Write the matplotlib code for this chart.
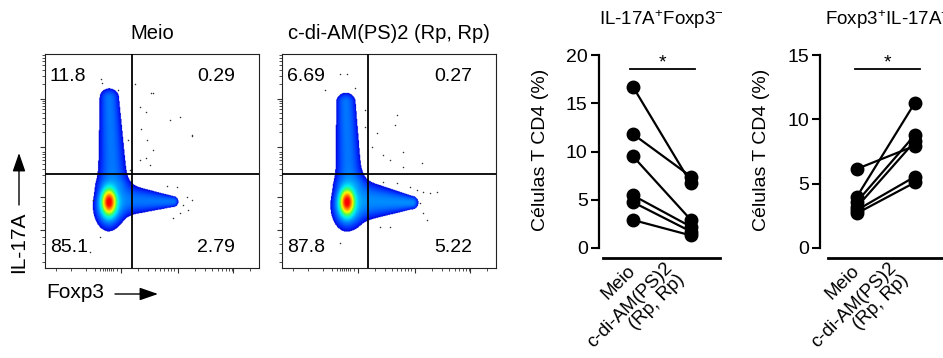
import numpy as np
import matplotlib
matplotlib.use('Agg')
import matplotlib.pyplot as plt
from matplotlib.colors import LinearSegmentedColormap
from matplotlib.patches import FancyArrowPatch
import matplotlib.transforms as mtransforms

plt.rcParams['font.family'] = ['Liberation Sans', 'DejaVu Sans']
plt.rcParams['mathtext.fontset'] = 'custom'
plt.rcParams['mathtext.rm'] = 'Liberation Sans'
plt.rcParams['mathtext.it'] = 'Liberation Sans:italic'
plt.rcParams['mathtext.bf'] = 'Liberation Sans:bold'

W, H, DPI = 943, 358, 100

# ------------------------------------------------------------------ data
flow_titles = ['Meio', 'c-di-AM(PS)2 (Rp, Rp)']
quad_meio = ['11.8', '0.29', '85.1', '2.79']   # UL, UR, LL, LR
quad_rp = ['6.69', '0.27', '87.8', '5.22']
gate_x = [0.407, 0.400]
gate_y = [0.439, 0.439]

# population density components (axes fraction):
# x0, y0, x1, y1, sx0, sy0, sx1, sy1, weight
comps_meio = [
    (0.299, 0.308, 0.299, 0.308, 0.018, 0.032, 0.018, 0.032, 1.00),
    (0.297, 0.292, 0.297, 0.292, 0.037, 0.060, 0.037, 0.060, 0.08),
    (0.316, 0.400, 0.300, 0.795, 0.042, 0.030, 0.028, 0.028, 0.04),
    (0.360, 0.318, 0.600, 0.310, 0.030, 0.048, 0.015, 0.016, 0.04),
]
comps_rp = [
    (0.304, 0.308, 0.304, 0.308, 0.018, 0.032, 0.018, 0.032, 1.00),
    (0.300, 0.292, 0.300, 0.292, 0.037, 0.060, 0.037, 0.060, 0.08),
    (0.312, 0.400, 0.298, 0.775, 0.038, 0.030, 0.028, 0.028, 0.04),
    (0.360, 0.315, 0.610, 0.305, 0.035, 0.058, 0.016, 0.018, 0.05),
]

dots_meio_x = [0.262, 0.268, 0.343, 0.421, 0.503, 0.444, 0.472, 0.584, 0.685, 0.447,
               0.475, 0.506, 0.472, 0.491, 0.389, 0.397, 0.569, 0.615, 0.662, 0.685,
               0.646, 0.631, 0.670, 0.600, 0.226, 0.257, 0.210, 0.444, 0.631, 0.685, 0.497]
dots_meio_y = [0.882, 0.866, 0.832, 0.860, 0.816, 0.754, 0.730, 0.692, 0.617, 0.648,
               0.598, 0.551, 0.513, 0.481, 0.598, 0.458, 0.383, 0.380, 0.333, 0.318,
               0.294, 0.256, 0.271, 0.232, 0.318, 0.146, 0.076, 0.505, 0.706, 0.621, 0.816]
dots_rp_x = [0.271, 0.302, 0.341, 0.201, 0.536, 0.528, 0.442, 0.419, 0.473, 0.505,
             0.567, 0.653, 0.567, 0.388, 0.388, 0.473, 0.536, 0.598, 0.629, 0.660,
             0.692, 0.723, 0.645, 0.660, 0.676, 0.505, 0.458, 0.271]
dots_rp_y = [0.907, 0.907, 0.840, 0.832, 0.715, 0.668, 0.629, 0.567, 0.528, 0.505,
             0.544, 0.489, 0.473, 0.738, 0.660, 0.403, 0.396, 0.380, 0.364, 0.357,
             0.349, 0.357, 0.302, 0.256, 0.224, 0.193, 0.193, 0.115]

groups = ['Meio', 'c-di-AM(PS)2\n(Rp, Rp)']
il17_meio = [16.7, 11.8, 9.5, 5.45, 4.75, 2.9]
il17_rp = [6.7, 7.4, 2.9, 2.2, 1.7, 1.3]
foxp3_meio = [6.15, 4.0, 3.6, 3.2, 2.95, 2.7]
foxp3_rp = [7.95, 11.3, 8.8, 8.3, 5.55, 5.1]

# ------------------------------------------------------------------ figure
fig = plt.figure(figsize=(W / DPI, H / DPI), dpi=DPI)
fig.patch.set_facecolor('white')

cmap = LinearSegmentedColormap.from_list('flow', [
    (0.00, (0.00, 0.00, 0.85)),
    (0.15, (0.00, 0.20, 1.00)),
    (0.35, (0.00, 0.55, 1.00)),
    (0.55, (0.00, 0.95, 0.95)),
    (0.70, (0.30, 1.00, 0.30)),
    (0.82, (1.00, 1.00, 0.00)),
    (0.92, (1.00, 0.50, 0.00)),
    (1.00, (1.00, 0.00, 0.00)),
])
cmap.set_bad((1, 1, 1, 0))


def density(comps, n=360):
    g = np.linspace(0, 1, n)
    X, Y = np.meshgrid(g, g)
    D = np.zeros_like(X)
    for x0, y0, x1, y1, sx0, sy0, sx1, sy1, w in comps:
        vx, vy = x1 - x0, y1 - y0
        L2 = vx * vx + vy * vy
        if L2 > 0:
            t = np.clip(((X - x0) * vx + (Y - y0) * vy) / L2, 0, 1)
        else:
            t = np.zeros_like(X)
        px, py = x0 + t * vx, y0 + t * vy
        sx = sx0 + t * (sx1 - sx0)
        sy = sy0 + t * (sy1 - sy0)
        D += w * np.exp(-0.5 * (((X - px) / sx) ** 2 + ((Y - py) / sy) ** 2))
    thr = 0.01
    V = np.clip(np.log10(np.maximum(D, 1e-9) / thr) / 2.0, 0, 1)
    return np.ma.masked_where(D < thr, V)


def flow_ticks(ax):
    y_major = [0.178, 0.33, 0.567, 0.791]
    y_minor = [0.03, 0.07, 0.11, 0.145, 0.21, 0.24, 0.265, 0.29, 0.31]
    for b in [0.33, 0.567, 0.791]:
        for k in range(2, 10):
            v = b + np.log10(k) * 0.224
            if v < 1.0:
                y_minor.append(v)
    x_major = [0.354, 0.623, 0.88]
    x_minor = [0.05, 0.12, 0.19, 0.235, 0.255, 0.27, 0.28, 0.29, 0.30, 0.31, 0.32, 0.335]
    for b in [0.354, 0.623, 0.88]:
        for k in range(2, 10):
            v = b + np.log10(k) * 0.262
            if v < 1.0:
                x_minor.append(v)
    ax.set_xticks(x_major)
    ax.set_xticks(x_minor, minor=True)
    ax.set_yticks(y_major)
    ax.set_yticks(y_minor, minor=True)
    ax.tick_params(which='major', length=3.5, width=0.8, color='#333333',
                   labelbottom=False, labelleft=False)
    ax.tick_params(which='minor', length=2.0, width=0.6, color='#333333')


def flow_panel(left_px, comps, dx, dy, quads, gx, gy, title):
    ax = fig.add_axes([left_px / W, (H - 268) / H, 214 / W, 214 / H])
    ax.set_xlim(0, 1)
    ax.set_ylim(0, 1)
    ax.imshow(density(comps), origin='lower', extent=(0, 1, 0, 1), cmap=cmap,
              vmin=0, vmax=1, interpolation='bilinear', aspect='auto', zorder=1)
    ax.scatter(dx, dy, s=1.2, c='#333333', linewidths=0, zorder=2)
    ax.axvline(gx, color='black', lw=1.3, zorder=3)
    ax.axhline(gy, color='black', lw=1.3, zorder=3)
    for sp in ax.spines.values():
        sp.set_linewidth(0.8)
        sp.set_color('#222222')
    flow_ticks(ax)
    fs = 14
    ax.text(0.022, 0.897, quads[0], transform=ax.transAxes, ha='left', va='center', fontsize=fs)
    ax.text(0.888, 0.897, quads[1], transform=ax.transAxes, ha='right', va='center', fontsize=fs)
    ax.text(0.022, 0.098, quads[2], transform=ax.transAxes, ha='left', va='center', fontsize=fs)
    ax.text(0.888, 0.098, quads[3], transform=ax.transAxes, ha='right', va='center', fontsize=fs)
    ax.set_title(title, fontsize=14.5, pad=11)
    return ax


flow_panel(45, comps_meio, dots_meio_x, dots_meio_y, quad_meio, gate_x[0], gate_y[0], flow_titles[0])
flow_panel(282, comps_rp, dots_rp_x, dots_rp_y, quad_rp, gate_x[1], gate_y[1], flow_titles[1])

# axis labels with arrows
fig.text(19 / W, 1 - 242 / H, 'IL-17A', rotation=90, ha='center', va='center', fontsize=15)
fig.text(46 / W, 1 - 293 / H, 'Foxp3', ha='left', va='center', fontsize=15)
arrow = dict(arrowstyle='-|>,head_length=0.75,head_width=0.26', lw=1.0, color='black',
             mutation_scale=15, shrinkA=0, shrinkB=0)
fig.add_artist(FancyArrowPatch((19 / W, 1 - 205 / H), (19 / W, 1 - 153 / H),
                               transform=fig.transFigure, **arrow))
fig.add_artist(FancyArrowPatch((115 / W, 1 - 294 / H), (158 / W, 1 - 294 / H),
                               transform=fig.transFigure, **arrow))


def paired_panel(left_px, right_px, x_meio_px, ymax, yticks, meio, rp, bracket_y,
                 bracket_px, axis_px, title, title_x, title_ha):
    top_px, bot_px = 55, 248
    ax = fig.add_axes([left_px / W, (H - bot_px) / H, (right_px - left_px) / W,
                       (bot_px - top_px) / H])
    unit = 58.0
    ax.set_xlim(-(x_meio_px - left_px) / unit, 1 + (right_px - x_meio_px - unit) / unit)
    ax.set_ylim(0, ymax)
    for m, r in zip(meio, rp):
        ax.plot([0, 1], [m, r], color='black', lw=1.6, zorder=2, solid_capstyle='round')
    ax.plot([0] * len(meio), meio, 'o', color='black', ms=9, zorder=3)
    ax.plot([1] * len(rp), rp, 'o', color='black', ms=9, zorder=3)
    ax.spines['top'].set_visible(False)
    ax.spines['right'].set_visible(False)
    ax.spines['left'].set_linewidth(1.6)
    ax.spines['bottom'].set_linewidth(2.0)
    ax.spines['bottom'].set_position(('outward', 9.5 * 72 / DPI))
    ax.spines['bottom'].set_bounds((axis_px[0] - x_meio_px) / unit,
                                   (axis_px[1] - x_meio_px) / unit)
    ax.set_yticks(yticks)
    ax.tick_params(axis='y', length=5.8, width=1.5, labelsize=14, pad=2)
    ax.set_xticks([0, 1])
    ax.set_xticklabels(groups, fontsize=13.5, rotation=45, ha='right', va='baseline',
                       rotation_mode='anchor', multialignment='right', linespacing=1.0)
    ax.tick_params(axis='x', length=0, pad=9.7)
    shifts = [(3, 0), (-6, -9)]
    for lab, (sx, sy) in zip(ax.get_xticklabels(), shifts):
        lab.set_transform(lab.get_transform() +
                          mtransforms.ScaledTranslation(sx / DPI, sy / DPI, fig.dpi_scale_trans))
    b0 = (bracket_px[0] - x_meio_px) / unit
    b1 = (bracket_px[1] - x_meio_px) / unit
    ax.plot([b0, b1], [bracket_y, bracket_y], color='black', lw=1.3, clip_on=False)
    ax.text((b0 + b1) / 2, bracket_y, '*', ha='center', va='baseline', fontsize=14,
            transform=ax.transData + mtransforms.ScaledTranslation(0, 2 / DPI, fig.dpi_scale_trans))
    fig.text((left_px - 58) / W, 1 - 150 / H, 'Células T CD4 (%)', rotation=90,
             ha='center', va='center', fontsize=14)
    fig.text(title_x / W, 1 - 20 / H, title, ha=title_ha, va='center', fontsize=13.5)
    return ax


paired_panel(598.5, 722, 633, 20, [0, 5, 10, 15, 20], il17_meio, il17_rp, 18.55,
             (630, 695), (603, 720), r'IL-17A$^{+}$Foxp3$^{-}$', 661, 'center')
paired_panel(820, 943, 857, 15, [0, 5, 10, 15], foxp3_meio, foxp3_rp, 13.9,
             (855, 920), (828, 990), r'Foxp3$^{+}$IL-17A$^{+}$', 825, 'left')

fig.savefig('out.png', dpi=DPI, facecolor='white')
